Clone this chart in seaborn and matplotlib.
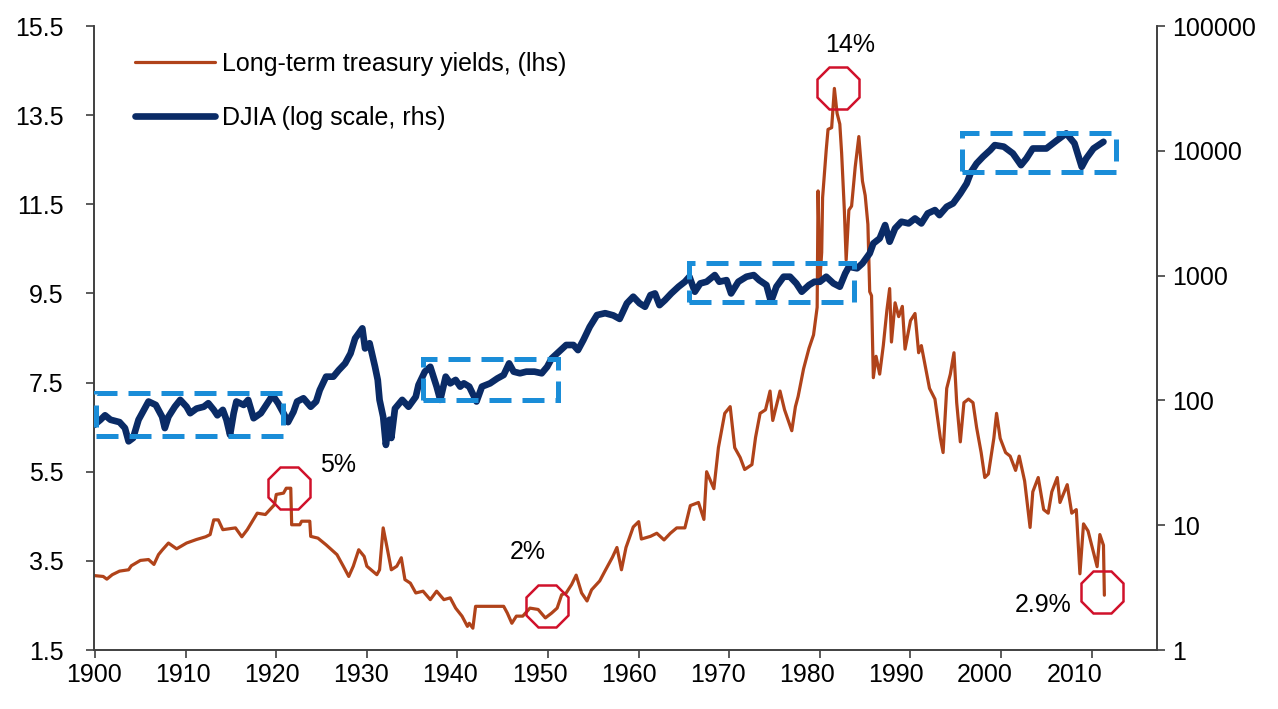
"""
Long-term treasury yields (lhs) vs. DJIA on a log scale (rhs), 1900-2011,
with the sideways DJIA periods boxed and the yield turning points circled.
"""

import matplotlib

matplotlib.use("Agg")
import matplotlib.pyplot as plt
import matplotlib.ticker as ticker
from matplotlib.patches import Rectangle
import seaborn as sns

sns.set_theme(style="white")
plt.rcParams["font.family"] = ["Liberation Sans Narrow", "Liberation Sans", "DejaVu Sans"]

ORANGE = "#B0431A"
NAVY = "#0A2B66"
LIGHT_BLUE = "#1A8DD8"
RED = "#D0112B"
SPINE = "#404040"

# Long-term treasury yields, % (lhs)
yield_years = [
    1899.9, 1900.9, 1901.3, 1901.9, 1902.7, 1903.7, 1904.0, 1905.0, 1905.9, 1906.5,
    1907.0, 1907.4, 1908.1, 1909.0, 1910.1, 1911.2, 1912.2, 1912.7, 1913.1, 1913.6,
    1914.1, 1915.5, 1916.2, 1916.8, 1917.9, 1918.8, 1919.8, 1920.0, 1920.8, 1921.1,
    1921.6, 1921.7, 1922.6, 1922.8, 1923.7, 1923.8, 1924.6, 1925.5, 1926.7, 1927.4,
    1928.0, 1928.5, 1929.1, 1929.7, 1930.0, 1931.1, 1931.4, 1931.8, 1932.2, 1932.7,
    1933.3, 1933.8, 1934.2, 1934.8, 1935.4, 1936.2, 1937.0, 1937.7, 1938.5, 1939.2,
    1939.8, 1940.5, 1941.1, 1941.3, 1941.7, 1942.0, 1945.1, 1945.5, 1946.0, 1946.5,
    1947.2, 1948.0, 1948.9, 1949.7, 1950.4, 1951.0, 1951.5, 1952.0, 1952.6, 1953.1,
    1953.7, 1954.3, 1954.8, 1955.7, 1956.3, 1957.1, 1957.6, 1958.1, 1958.6, 1959.4,
    1960.0, 1960.3, 1961.3, 1962.0, 1962.8, 1963.5, 1964.2, 1965.1, 1965.7, 1966.6,
    1967.2, 1967.5, 1968.3, 1968.8, 1969.5, 1970.1, 1970.6, 1971.2, 1971.7, 1972.5,
    1972.9, 1973.4, 1974.0, 1974.5, 1974.8, 1975.6, 1976.1, 1976.9, 1977.3, 1977.6,
    1978.2, 1978.8, 1979.3, 1979.7, 1979.8, 1980.0, 1980.2, 1980.3, 1980.7, 1980.9,
    1981.3, 1981.6, 1981.9, 1982.2, 1982.4, 1982.7, 1982.9, 1983.2, 1983.5, 1983.9,
    1984.3, 1984.7, 1985.0, 1985.3, 1985.5, 1985.7, 1985.9, 1986.2, 1986.6, 1987.0,
    1987.4, 1987.7, 1987.9, 1988.3, 1988.7, 1989.1, 1989.4, 1990.0, 1990.5, 1990.9,
    1991.2, 1991.8, 1992.1, 1992.7, 1993.3, 1993.6, 1994.0, 1994.4, 1994.8, 1995.1,
    1995.5, 1995.9, 1996.4, 1996.9, 1997.3, 1997.8, 1998.2, 1998.6, 1999.2, 1999.5,
    1999.9, 2000.5, 2001.0, 2001.6, 2002.0, 2002.6, 2003.2, 2003.5, 2004.1, 2004.7,
    2005.2, 2005.6, 2006.2, 2006.5, 2007.3, 2007.8, 2008.3, 2008.7, 2009.1, 2009.6,
    2010.2, 2010.6, 2010.9, 2011.3, 2011.4,
]
yield_pct = [
    3.17, 3.15, 3.09, 3.19, 3.27, 3.30, 3.39, 3.51, 3.53, 3.42,
    3.64, 3.74, 3.90, 3.77, 3.90, 3.98, 4.04, 4.09, 4.42, 4.42,
    4.20, 4.24, 4.04, 4.20, 4.57, 4.54, 4.76, 4.99, 5.02, 5.13,
    5.13, 4.31, 4.31, 4.39, 4.39, 4.05, 4.01, 3.86, 3.64, 3.38,
    3.15, 3.38, 3.75, 3.60, 3.38, 3.19, 3.30, 4.24, 3.83, 3.30,
    3.38, 3.57, 3.08, 3.00, 2.78, 2.82, 2.63, 2.82, 2.63, 2.67,
    2.44, 2.26, 2.03, 2.10, 1.99, 2.48, 2.48, 2.33, 2.10, 2.26,
    2.26, 2.44, 2.41, 2.22, 2.33, 2.44, 2.74, 2.78, 2.97, 3.18,
    2.78, 2.60, 2.85, 3.05, 3.28, 3.58, 3.80, 3.30, 3.80, 4.26,
    4.38, 3.99, 4.05, 4.12, 3.97, 4.12, 4.24, 4.24, 4.74, 4.81,
    4.43, 5.50, 5.12, 6.04, 6.81, 6.96, 6.04, 5.82, 5.55, 5.66,
    6.27, 6.81, 6.89, 7.31, 6.65, 7.31, 6.89, 6.42, 6.96, 7.19,
    7.81, 8.27, 8.57, 9.19, 11.80, 9.80, 10.42, 11.65, 12.72, 13.18,
    13.22, 14.10, 13.54, 13.30, 12.65, 11.37, 10.25, 11.37, 11.46, 12.34,
    13.02, 12.02, 11.70, 11.05, 9.54, 9.45, 7.61, 8.09, 7.69, 8.33,
    9.13, 9.61, 8.41, 9.29, 8.98, 9.21, 8.25, 8.89, 9.05, 8.17,
    8.33, 7.69, 7.37, 7.13, 6.25, 5.93, 7.37, 7.69, 8.17, 7.05,
    6.17, 7.05, 7.13, 7.05, 6.49, 5.93, 5.37, 5.45, 6.25, 6.81,
    6.25, 5.93, 5.85, 5.53, 5.85, 5.29, 4.25, 5.05, 5.37, 4.65,
    4.57, 5.05, 5.37, 4.81, 5.21, 4.57, 4.65, 3.21, 4.33, 4.17,
    3.69, 3.37, 4.09, 3.85, 2.73,
]

# DJIA level (rhs, log scale)
djia_years = [
    1899.9, 1900.6, 1901.1, 1901.7, 1902.7, 1903.3, 1903.7, 1904.2, 1904.8, 1905.2,
    1905.9, 1906.7, 1907.4, 1907.7, 1908.1, 1908.8, 1909.4, 1910.1, 1910.5, 1911.2,
    1912.0, 1912.5, 1913.1, 1913.5, 1914.1, 1914.5, 1914.9, 1915.3, 1915.6, 1916.4,
    1916.9, 1917.5, 1918.3, 1918.9, 1919.6, 1920.2, 1920.8, 1921.3, 1921.9, 1922.3,
    1923.0, 1923.8, 1924.4, 1924.8, 1925.5, 1926.3, 1926.9, 1927.6, 1928.2, 1928.7,
    1929.5, 1929.8, 1930.3, 1930.9, 1931.2, 1931.4, 1931.8, 1932.1, 1932.5, 1932.7,
    1933.1, 1933.9, 1934.6, 1935.4, 1935.7, 1936.4, 1937.0, 1937.7, 1938.1, 1938.7,
    1939.2, 1939.8, 1940.3, 1940.7, 1941.3, 1942.1, 1942.7, 1943.6, 1944.4, 1945.1,
    1945.7, 1946.2, 1946.9, 1947.6, 1948.5, 1949.3, 1949.9, 1950.4, 1951.4, 1952.0,
    1952.8, 1953.3, 1953.9, 1954.6, 1955.4, 1956.3, 1957.2, 1957.9, 1958.7, 1959.4,
    1960.1, 1960.7, 1961.3, 1961.8, 1962.3, 1962.9, 1963.6, 1964.4, 1965.1, 1965.6,
    1966.2, 1966.8, 1967.5, 1968.4, 1968.9, 1969.7, 1970.2, 1971.0, 1971.9, 1972.7,
    1973.3, 1974.1, 1974.6, 1975.2, 1976.0, 1976.7, 1977.4, 1978.0, 1978.8, 1979.4,
    1980.0, 1980.7, 1981.5, 1982.2, 1982.8, 1983.2, 1984.1, 1984.7, 1985.5, 1985.9,
    1986.6, 1987.2, 1987.7, 1988.3, 1989.0, 1989.8, 1990.5, 1991.2, 1991.9, 1992.7,
    1993.2, 1994.0, 1994.7, 1995.5, 1996.2, 1996.7, 1997.3, 1998.0, 1998.8, 1999.3,
    2000.3, 2001.3, 2002.2, 2002.8, 2003.5, 2005.0, 2006.2, 2007.2, 2008.1, 2008.9,
    2009.4, 2010.2, 2011.3,
]
djia_level = [
    63.5, 70, 76, 70, 67, 60, 47, 50, 70, 79,
    98, 92, 74, 60, 74, 89, 101, 89, 79, 86,
    89, 95, 84, 76, 84, 70, 53, 79, 98, 92,
    101, 72, 79, 92, 110, 95, 79, 67, 81, 98,
    104, 89, 98, 121, 155, 155, 175, 198, 238, 314,
    378, 261, 287, 186, 146, 101, 74, 44, 70, 50,
    86, 101, 89, 107, 133, 170, 186, 129, 101, 155,
    137, 146, 129, 137, 129, 98, 129, 137, 150, 160,
    198, 170, 165, 170, 170, 165, 186, 217, 253, 278,
    278, 253, 305, 389, 483, 500, 480, 450, 600, 678,
    600, 563, 698, 720, 580, 636, 720, 815, 893, 980,
    743, 866, 893, 1010, 893, 920, 720, 893, 980, 1010,
    920, 840, 618, 815, 980, 980, 866, 743, 840, 893,
    893, 980, 866, 815, 1042, 1178, 1144, 1253, 1507, 1811,
    1986, 2541, 1869, 2389, 2703, 2620, 2871, 2620, 3150, 3350,
    3055, 3563, 3788, 4550, 5470, 6790, 7920, 8960, 10130, 11110,
    10800, 9530, 7680, 8690, 10440, 10440, 12190, 13800, 11480, 7440,
    8690, 10440, 11810,
]

decades = list(range(1900, 2020, 10))
left_ticks = [1.5, 3.5, 5.5, 7.5, 9.5, 11.5, 13.5, 15.5]
right_ticks = [1, 10, 100, 1000, 10000, 100000]

# sideways DJIA periods (dashed boxes)
box_start = [1900.1, 1936.2, 1965.6, 1995.7]
box_end = [1920.7, 1951.1, 1983.8, 2012.7]
box_low = [52, 101, 618, 6800]
box_high = [115, 215, 1268, 13960]

# circled yield turning points and their notes
circle_years = [1921.4, 1949.9, 1982.0, 2011.1]
circle_pct = [5.13, 2.48, 14.1, 2.81]
note_text = ["5%", "2%", "14%", "2.9%"]
note_years = [1926.8, 1947.8, 1983.3, 2004.6]
note_pct = [5.66, 3.71, 15.07, 2.52]

fig = plt.figure(figsize=(12.78, 7.09), dpi=100)
ax = fig.add_axes([0.0736, 0.0832, 0.8318, 0.8801])
ax2 = ax.twinx()

sns.lineplot(x=yield_years, y=yield_pct, ax=ax, color=ORANGE, linewidth=2.3,
             estimator=None, errorbar=None)
sns.lineplot(x=djia_years, y=djia_level, ax=ax2, color=NAVY, linewidth=4.8,
             estimator=None, errorbar=None)
ax2.lines[0].set_solid_joinstyle("round")
ax2.lines[0].set_solid_capstyle("round")

for x0, x1, lo, hi in zip(box_start, box_end, box_low, box_high):
    ax2.add_patch(Rectangle((x0, lo), x1 - x0, hi - lo, fill=False,
                            edgecolor=LIGHT_BLUE, linewidth=3.6,
                            linestyle=(0, (4.4, 2.2)), zorder=3))

ax2.plot(circle_years, circle_pct, linestyle="none", marker="8", markersize=32,
         markerfacecolor="none", markeredgecolor=RED, markeredgewidth=1.8,
         transform=ax.transData, zorder=4)
for s, x, y in zip(note_text, note_years, note_pct):
    ax2.text(x, y, s, transform=ax.transData, ha="center", va="center",
             fontsize=18, color="black")

# x axis: tick marks sit on the decades, the printed labels drift slightly left
ax.set_xlim(1899.89, 2017.22)
ax.set_xticks(decades)
ax.tick_params(axis="x", which="major", bottom=True, labelbottom=False,
               direction="out", length=6, width=1.2, color=SPINE)
label_x = [1900 + (89.1 * i - 1) / 9.06 for i in range(len(decades))]
ax.set_xticks(label_x, minor=True)
ax.set_xticklabels([str(d) for d in decades], minor=True)
ax.tick_params(axis="x", which="minor", bottom=True, length=0, pad=9,
               labelsize=18, labelcolor="black")

ax.set_ylim(1.5, 15.5)
ax.set_yticks(left_ticks)
ax.yaxis.set_major_formatter(ticker.StrMethodFormatter("{x:.1f}"))
ax.tick_params(axis="y", left=True, direction="out", length=6, width=1.2,
               color=SPINE, pad=16, labelsize=18, labelcolor="black")

ax2.set_yscale("log")
ax2.set_ylim(1, 100000)
ax2.set_yticks(right_ticks)
ax2.yaxis.set_minor_locator(ticker.NullLocator())
ax2.yaxis.set_major_formatter(ticker.FuncFormatter(lambda v, p: f"{v:.0f}"))
ax2.tick_params(axis="y", right=True, direction="out", length=6, width=1.2,
                color=SPINE, pad=5, labelsize=18, labelcolor="black")
ax.set_ylabel("")
ax2.set_ylabel("")

for a in (ax, ax2):
    a.spines["top"].set_visible(False)
    for side in ("left", "right", "bottom"):
        a.spines[side].set_color(SPINE)
        a.spines[side].set_linewidth(1.2)

leg = ax2.legend([ax.lines[0], ax2.lines[0]],
                 ["Long-term treasury yields, (lhs)", "DJIA (log scale, rhs)"],
                 loc="upper left", bbox_to_anchor=(0.029, 0.975), borderaxespad=0,
                 frameon=False, fontsize=18, handlelength=3.2, handletextpad=0.3,
                 labelspacing=1.2)
for t in leg.get_texts():
    t.set_color("black")

fig.savefig("out.png", dpi=100)
